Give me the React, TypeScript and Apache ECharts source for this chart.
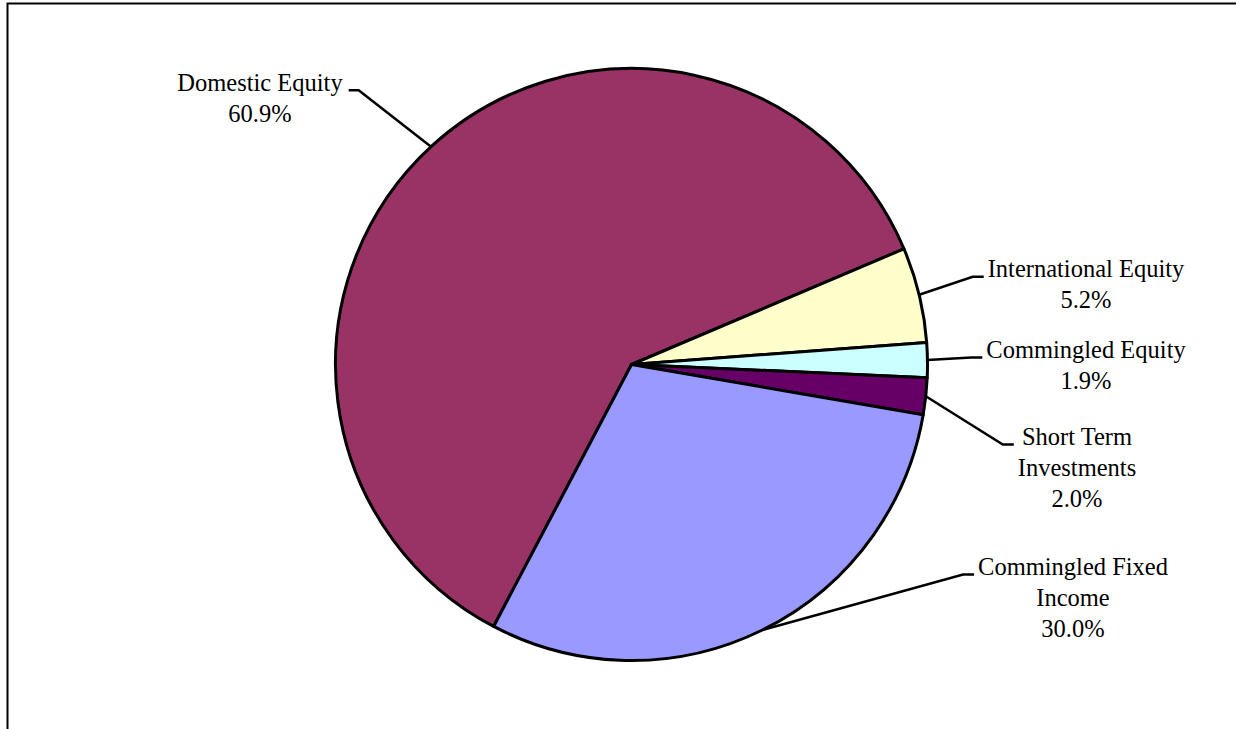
import React, { useEffect, useRef } from 'react';
import * as echarts from 'echarts';

// ---- data ----
const categories = [
  'Domestic Equity',
  'International Equity',
  'Commingled Equity',
  'Short Term Investments',
  'Commingled Fixed Income',
];
const labelTexts = [
  'Domestic Equity',
  'International Equity',
  'Commingled Equity',
  'Short Term\nInvestments',
  'Commingled Fixed\nIncome',
];
const shares = [60.9, 5.2, 1.9, 2.0, 30.0];
const colors = ['#993366', '#FFFFCC', '#CCFFFF', '#660066', '#9999FF'];

// ---- label placement (layout, not data) ----
const labelCenterX = [260, 1086, 1086, 1077, 1073];
const labelBaselineY = [90.7, 277.3, 358, 445, 575];

const CX = 631.5;
const CY = 364.5;
const RADIUS = 296;
const FONT_SIZE = 24.5;
const LINE_H = 30.7;
const BASE_OFF = 8.3;

export default function App() {
  const ref = useRef<HTMLDivElement>(null);

  useEffect(() => {
    if (!ref.current) return;
    const chart = echarts.init(ref.current, undefined, { renderer: 'svg' });
    const data = categories.map((name, i) => ({
      name,
      value: shares[i],
      itemStyle: { color: colors[i] },
    }));
    chart.setOption({
      animation: false,
      graphic: [
        {
          type: 'rect',
          silent: true,
          z: -10,
          shape: { x: 7.5, y: 3.5, width: 1300, height: 800 },
          style: { fill: 'none', stroke: '#000', lineWidth: 2 },
        },
      ],
      series: [
        {
          type: 'pie',
          center: [CX, CY],
          radius: RADIUS,
          startAngle: 242.24,
          clockwise: true,
          avoidLabelOverlap: false,
          silent: true,
          emphasis: { disabled: true },
          itemStyle: { borderColor: '#000', borderWidth: 3 },
          label: {
            show: true,
            position: 'outside',
            color: '#000',
            fontFamily: 'Liberation Serif',
            fontSize: FONT_SIZE,
            lineHeight: LINE_H,
            formatter: (p: any) =>
              labelTexts[p.dataIndex] + '\n' + Number(p.value).toFixed(1) + '%',
          },
          labelLine: {
            show: true,
            length: 20,
            length2: 10,
            lineStyle: { color: '#000', width: 2.5 },
          },
          labelLayout: (p: any) => {
            const i = p.dataIndex;
            const w = p.labelRect.width;
            const x = labelCenterX[i];
            const top = labelBaselineY[i] - BASE_OFF - LINE_H / 2;
            const isLeft = x < CX;
            const segY = labelBaselineY[i] - 0.5;
            const endX = isLeft ? x + w / 2 + 6 : x - w / 2 - 4;
            const bendX = isLeft ? endX + 10 : endX - 11;
            const anchor =
              p.labelLinePoints && p.labelLinePoints[0]
                ? p.labelLinePoints[0]
                : [CX, CY];
            return {
              x,
              y: top,
              align: 'center',
              verticalAlign: 'top',
              labelLinePoints: [anchor, [bendX, segY], [endX, segY]],
            };
          },
          data,
        },
      ],
    });
    return () => chart.dispose();
  }, []);

  return (
    <div
      ref={ref}
      style={{
        position: 'absolute',
        left: 0,
        top: 0,
        width: 1236,
        height: 729,
        background: '#fff',
      }}
    />
  );
}
